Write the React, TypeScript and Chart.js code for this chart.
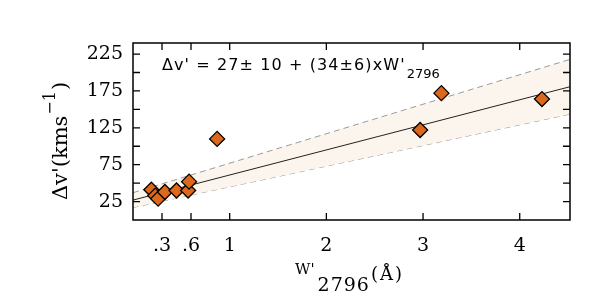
import React, { useEffect, useRef } from "react";
import { Chart, registerables } from "chart.js";

Chart.register(...registerables);

// Data
const pointsX = [0.19, 0.23, 0.26, 0.33, 0.45, 0.57, 0.58, 0.87, 2.97, 3.19, 4.23];
const pointsY = [41, 33, 29, 38, 40, 40, 52, 110, 122, 172, 164];

// Fit line and its uncertainty envelope (end points)
const lineX = [0, 4.52];
const fitY = [27, 180.7];
const upperY = [37, 217.8];
const lowerY = [17, 143.6];

// Axis ticks
const xTickValues = [0.3, 0.6, 1, 2, 3, 4];
const xTickLabels = [".3", ".6", "1", "2", "3", "4"];
const yLabelValues = [25, 75, 125, 175, 225];
const yMarkValues = [25, 50, 75, 100, 125, 150, 175, 200, 225];

const X_MIN = 0;
const X_MAX = 4.52;
const Y_MIN = 0;
const Y_MAX = 240;

const SERIF = '"DejaVu Serif"';
const SANS = '"DejaVu Sans"';

const decorPlugin = {
  id: "decor",
  afterDraw(chart: any) {
    const { ctx, chartArea, scales } = chart;
    const { left, right, top, bottom } = chartArea;
    const xs = scales.x;
    const ys = scales.y;
    ctx.save();
    // frame
    ctx.strokeStyle = "#000";
    ctx.lineWidth = 1.5;
    ctx.strokeRect(left, top, right - left, bottom - top);
    // tick marks (inside)
    ctx.lineWidth = 1.3;
    const tl = 7;
    ctx.beginPath();
    for (const v of yMarkValues) {
      const y = ys.getPixelForValue(v);
      ctx.moveTo(left, y);
      ctx.lineTo(left + tl, y);
      ctx.moveTo(right, y);
      ctx.lineTo(right - tl, y);
    }
    for (const v of xTickValues) {
      const x = xs.getPixelForValue(v);
      ctx.moveTo(x, bottom);
      ctx.lineTo(x, bottom - tl);
      ctx.moveTo(x, top);
      ctx.lineTo(x, top + tl);
    }
    ctx.stroke();

    // equation annotation
    ctx.fillStyle = "#000";
    ctx.textBaseline = "alphabetic";
    ctx.textAlign = "left";
    ctx.font = `16px ${SANS}`;
    (ctx as any).letterSpacing = "1.1px";
    const eq = "\u0394v' = 27\u00B1 10 + (34\u00B16)xW'";
    const ex = 162;
    ctx.fillText(eq, ex, 70);
    const ew = ctx.measureText(eq).width;
    ctx.font = `13px ${SANS}`;
    (ctx as any).letterSpacing = "0px";
    ctx.fillText("2796", ex + ew + 1, 78);

    // x-axis title: W'_2796 (Å)
    let tx = 295;
    ctx.font = `15px ${SERIF}`;
    ctx.fillText("W'", tx, 274);
    tx += ctx.measureText("W'").width + 3;
    ctx.font = `19px ${SERIF}`;
    (ctx as any).letterSpacing = "1px";
    ctx.fillText("2796", tx, 291);
    tx += ctx.measureText("2796").width + 1;
    ctx.font = `18px ${SERIF}`;
    (ctx as any).letterSpacing = "2px";
    ctx.fillText("(\u00C5)", tx, 280);
    (ctx as any).letterSpacing = "0px";

    // y-axis title: Δv'(kms^-1)
    ctx.translate(67, 141);
    ctx.rotate(-Math.PI / 2);
    ctx.font = `21px ${SERIF}`;
    const a = "\u0394v'(kms";
    const wa = ctx.measureText(a).width;
    ctx.font = `16px ${SERIF}`;
    const b = "\u22121";
    const wb = ctx.measureText(b).width;
    ctx.font = `21px ${SERIF}`;
    const c = ")";
    const wc = ctx.measureText(c).width;
    const total = wa + wb + wc + 2;
    let px = -total / 2;
    ctx.fillText(a, px, 0);
    px += wa + 1;
    ctx.font = `16px ${SERIF}`;
    ctx.fillText(b, px, -12);
    px += wb + 1;
    ctx.font = `21px ${SERIF}`;
    ctx.fillText(c, px, 0);
    ctx.restore();
  },
};

export default function App() {
  const ref = useRef<HTMLCanvasElement | null>(null);

  useEffect(() => {
    if (!ref.current) return;
    const pts = pointsX.map((x, i) => ({ x, y: pointsY[i] }));
    const fit = lineX.map((x, i) => ({ x, y: fitY[i] }));
    const up = lineX.map((x, i) => ({ x, y: upperY[i] }));
    const lo = lineX.map((x, i) => ({ x, y: lowerY[i] }));

    const chart = new Chart(ref.current, {
      type: "scatter",
      data: {
        datasets: [
          {
            type: "scatter",
            data: pts,
            pointStyle: "rectRot",
            pointRadius: 7.5,
            backgroundColor: "#dc681e",
            borderColor: "#000",
            borderWidth: 1.3,
          } as any,
          {
            type: "line",
            data: fit,
            borderColor: "#222",
            borderWidth: 1,
            pointRadius: 0,
            fill: false,
          } as any,
          {
            type: "line",
            data: up,
            borderColor: "#9a9a9a",
            borderWidth: 1,
            borderDash: [6, 4],
            pointRadius: 0,
            fill: "+1",
            backgroundColor: "#fcf5ed",
          } as any,
          {
            type: "line",
            data: lo,
            borderColor: "#9a9a9a",
            borderWidth: 1,
            borderDash: [6, 4],
            pointRadius: 0,
            fill: false,
          } as any,
        ],
      },
      options: {
        responsive: false,
        animation: false,
        devicePixelRatio: 1,
        layout: { padding: { left: 0, right: 39, top: 43, bottom: 0 } },
        plugins: {
          legend: { display: false },
          tooltip: { enabled: false },
          title: { display: false },
        },
        scales: {
          x: {
            type: "linear",
            min: X_MIN,
            max: X_MAX,
            grid: { display: false, drawTicks: false },
            border: { display: false },
            afterBuildTicks: (s: any) => {
              s.ticks = xTickValues.map((v) => ({ value: v }));
            },
            afterFit: (s: any) => {
              s.height = 85;
            },
            ticks: {
              autoSkip: false,
              maxRotation: 0,
              padding: 15,
              color: "#000",
              font: { family: "DejaVu Serif", size: 19 },
              callback: (v: any) => {
                const i = xTickValues.indexOf(Number(v));
                return i >= 0 ? xTickLabels[i] : "";
              },
            },
          },
          y: {
            type: "linear",
            min: Y_MIN,
            max: Y_MAX,
            grid: { display: false, drawTicks: false },
            border: { display: false },
            afterBuildTicks: (s: any) => {
              s.ticks = yLabelValues.map((v) => ({ value: v }));
            },
            afterFit: (s: any) => {
              s.width = 133;
            },
            ticks: {
              autoSkip: false,
              padding: 10,
              color: "#000",
              font: { family: "DejaVu Serif", size: 19 },
            },
          },
        },
      } as any,
      plugins: [decorPlugin],
    });
    return () => chart.destroy();
  }, []);

  return (
    <div style={{ position: "absolute", left: 0, top: 0, width: 609, height: 305, background: "#fff" }}>
      <canvas ref={ref} width={609} height={305} style={{ display: "block" }} />
    </div>
  );
}
